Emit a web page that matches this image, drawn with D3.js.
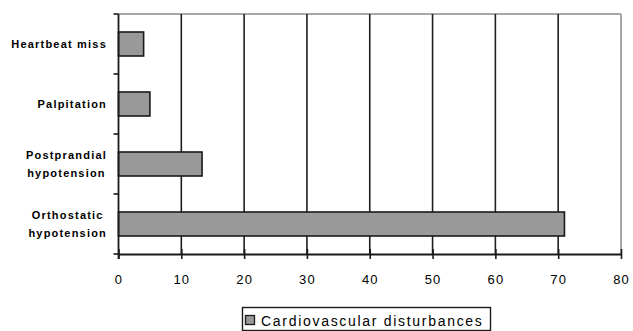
<!DOCTYPE html>
<html>
<head>
<meta charset="utf-8">
<script src="https://cdn.jsdelivr.net/npm/d3@7/dist/d3.min.js"></script>
<style>
  html, body { margin: 0; padding: 0; background: #fff; }
  svg { display: block; }
  text { font-family: Arial, "Liberation Sans", sans-serif; fill: #000; }
</style>
</head>
<body>
<svg id="chart" width="633" height="331"></svg>
<script>
// Categories, top to bottom; multi-line labels are split into lines
const categories = ["Heartbeat miss", "Palpitation", "Postprandial hypotension", "Orthostatic hypotension"];
const categoryLines = [["Heartbeat miss"], ["Palpitation"], ["Postprandial", "hypotension"], ["Orthostatic", "hypotension"]];
const values = [4, 5, 13.3, 71];
const xTicks = [0, 10, 20, 30, 40, 50, 60, 70, 80];
const seriesName = "Cardiovascular disturbances";

const svg = d3.select("#chart");
const plot = { left: 118.5, right: 621, top: 14, bottom: 254 };

const x = d3.scaleLinear().domain([0, 80]).range([plot.left, plot.right]);
const y = d3.scaleBand().domain(categories).range([plot.top, plot.bottom])
  .paddingInner(0.6).paddingOuter(0.3);
// Full bands (no padding) for category boundary ticks
const yb = d3.scaleBand().domain(categories).range([plot.top, plot.bottom]);

// Plot frame: top and right edges in grey
svg.append("line").attr("x1", plot.left).attr("x2", plot.right)
  .attr("y1", plot.top).attr("y2", plot.top)
  .attr("stroke", "#a8a8a8").attr("stroke-width", 2);
svg.append("line").attr("x1", plot.right).attr("x2", plot.right)
  .attr("y1", plot.top).attr("y2", plot.bottom)
  .attr("stroke", "#a8a8a8").attr("stroke-width", 2);

// Vertical gridlines at interior ticks
svg.append("g").selectAll("line")
  .data(xTicks.filter(d => d > 0 && d < 80))
  .join("line")
  .attr("x1", d => x(d)).attr("x2", d => x(d))
  .attr("y1", plot.top).attr("y2", plot.bottom)
  .attr("stroke", "#1e1e1e").attr("stroke-width", 1.6);

// Bars
svg.append("g").selectAll("rect")
  .data(categories)
  .join("rect")
  .attr("x", x(0))
  .attr("y", d => y(d))
  .attr("width", (d, i) => x(values[i]) - x(0))
  .attr("height", y.bandwidth())
  .attr("fill", "#999999")
  .attr("stroke", "#1a1a1a")
  .attr("stroke-width", 1.6);

// X axis
const xAxis = d3.axisBottom(x).tickValues(xTicks).tickSize(0).tickPadding(21)
  .tickSizeOuter(0);
const gx = svg.append("g").attr("transform", `translate(0,${plot.bottom})`).call(xAxis);
gx.select(".domain").attr("stroke", "#1a1a1a").attr("stroke-width", 1.8);
gx.selectAll(".tick text")
  .attr("font-size", 13).attr("letter-spacing", "1.1px")
  .attr("font-family", "Arial, 'Liberation Sans', sans-serif").attr("fill", "#111");
// Tick marks crossing the axis line
gx.selectAll(".tick").append("line")
  .attr("y1", -5).attr("y2", 5)
  .attr("stroke", "#1a1a1a").attr("stroke-width", 1.6);

// Y axis line and boundary ticks
svg.append("line").attr("x1", plot.left).attr("x2", plot.left)
  .attr("y1", plot.top).attr("y2", plot.bottom + 5)
  .attr("stroke", "#1a1a1a").attr("stroke-width", 1.8);
const boundaries = categories.map(c => yb(c)).concat([plot.bottom]);
svg.append("g").selectAll("line")
  .data(boundaries)
  .join("line")
  .attr("x1", plot.left - 5).attr("x2", plot.left)
  .attr("y1", d => d).attr("y2", d => d)
  .attr("stroke", "#1a1a1a").attr("stroke-width", 1.6);

// Category labels: right-aligned block, lines centred within the block
const labelRight = 107;
const lineGap = 18.5;
const lg = svg.append("g");
categories.forEach((c, i) => {
  const lines = categoryLines[i];
  const cy = yb(c) + yb.bandwidth() / 2;
  const t = lg.append("text")
    .attr("font-size", 11).attr("font-weight", "bold")
    .attr("letter-spacing", "1.2px").attr("fill", "#111");
  lines.forEach((ln, k) => {
    t.append("tspan").text(ln)
      .attr("y", cy + (k - (lines.length - 1) / 2) * lineGap)
      .attr("dy", "0.35em");
  });
  // Measure the widest line, then place lines centred on the block
  const widths = [];
  t.selectAll("tspan").each(function () { widths.push(this.getComputedTextLength()); });
  const maxW = d3.max(widths);
  if (lines.length === 1) {
    t.attr("text-anchor", "end");
    t.selectAll("tspan").attr("x", labelRight);
  } else {
    t.attr("text-anchor", "middle");
    t.selectAll("tspan").attr("x", labelRight - maxW / 2);
  }
});

// Legend
const leg = svg.append("g");
leg.append("rect").attr("x", 242.5).attr("y", 307.5).attr("width", 248).attr("height", 23)
  .attr("fill", "#fff").attr("stroke", "#1a1a1a").attr("stroke-width", 1.4);
leg.append("rect").attr("x", 245.5).attr("y", 315.5).attr("width", 9).attr("height", 9)
  .attr("fill", "#999999").attr("stroke", "#1a1a1a").attr("stroke-width", 1.3);
leg.append("text").attr("x", 261).attr("y", 326)
  .attr("font-size", 14).attr("letter-spacing", "1.7px").attr("fill", "#111")
  .text(seriesName);
</script>
</body>
</html>
